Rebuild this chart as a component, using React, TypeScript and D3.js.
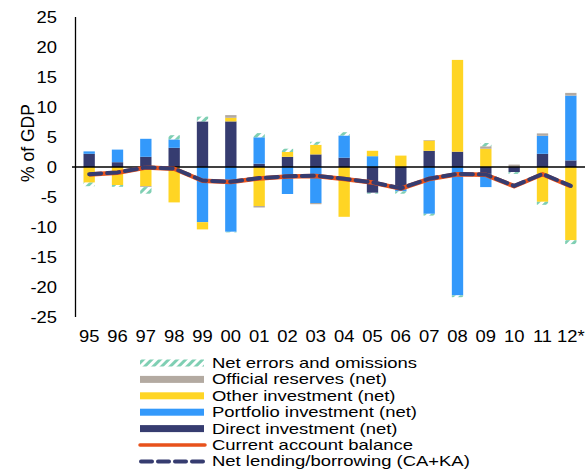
import React, { useEffect, useRef } from 'react';
import * as d3 from 'd3';

const years = ['95', '96', '97', '98', '99', '00', '01', '02', '03', '04', '05', '06', '07', '08', '09', '10', '11', '12*'];

// financial account components, % of GDP
const directInv = [2.2, 0.8, 1.7, 3.2, 7.6, 7.6, 0.55, 1.7, 2.1, 1.55, -4.3, -3.7, 2.7, 2.55, -1.15, -0.85, 2.2, 1.1];
const portfolioInv = [0.4, 2.1, 3.0, 1.4, -9.2, -10.8, 4.4, -4.5, -6.0, 3.7, 1.8, -0.35, -7.8, -21.4, -2.2, 0, 3.0, 10.8];
const otherInv = [-2.6, -3.0, -3.2, -5.9, -1.2, 0.6, -6.5, 0.8, 1.6, -8.3, 0.9, 1.9, 1.7, 15.3, 3.05, 0, -5.8, -12.2];
const reserves = [0, 0, -0.15, 0, 0, 0.45, -0.25, 0, -0.2, 0, 0, 0, 0.1, 0, 0.4, 0.4, 0.4, 0.45];
const errorsOm = [-0.6, -0.3, -1.1, 0.7, 0.8, -0.1, 0.7, 0.55, 0.5, 0.55, -0.15, -0.4, -0.3, -0.3, 0.55, -0.3, -0.5, -0.65];

const currentAccount = [-1.25, -0.95, -0.1, -0.3, -2.3, -2.5, -1.9, -1.6, -1.5, -2.0, -2.6, -3.6, -2.0, -1.2, -1.3, -3.2, -1.2, -3.2];
const netLending = [-1.2, -0.9, -0.05, -0.25, -2.25, -2.45, -1.85, -1.55, -1.45, -1.95, -2.55, -3.55, -1.95, -1.15, -1.25, -3.15, -1.15, -3.15];

const yTicks = [25, 20, 15, 10, 5, 0, -5, -10, -15, -20, -25];

const keys = ['direct', 'portfolio', 'other', 'reserves', 'errors'];
const colors: Record<string, string> = {
  direct: '#363c70',
  portfolio: '#3399fb',
  other: '#ffd524',
  reserves: '#b3aaa1',
  errors: 'url(#hatch)'
};

const legendItems = [
  { label: 'Net errors and omissions', kind: 'errors' },
  { label: 'Official reserves (net)', kind: 'reserves' },
  { label: 'Other investment (net)', kind: 'other' },
  { label: 'Portfolio investment (net)', kind: 'portfolio' },
  { label: 'Direct investment (net)', kind: 'direct' },
  { label: 'Current account balance', kind: 'ca' },
  { label: 'Net lending/borrowing (CA+KA)', kind: 'nl' }
];

const App = () => {
  const ref = useRef<SVGSVGElement>(null);

  useEffect(() => {
    const svg = d3.select(ref.current);
    svg.selectAll('*').remove();
    const font = '"Liberation Sans", Arial, sans-serif';
    const sx = 1.15; // text looks horizontally stretched in the source

    const defs = svg.append('defs');
    const pat = defs.append('pattern')
      .attr('id', 'hatch')
      .attr('patternUnits', 'userSpaceOnUse')
      .attr('width', 6)
      .attr('height', 6)
      .attr('patternTransform', 'rotate(45)');
    pat.append('rect').attr('width', 6).attr('height', 6).attr('fill', '#ffffff');
    pat.append('rect').attr('width', 3).attr('height', 6).attr('fill', '#7fcfb3');

    const table = years.map((yr, i) => ({
      year: yr,
      direct: directInv[i],
      portfolio: portfolioInv[i],
      other: otherInv[i],
      reserves: reserves[i],
      errors: errorsOm[i]
    }));

    const x = d3.scaleBand().domain(years).range([75, 585]).paddingInner(0.6).paddingOuter(0.3);
    const y = d3.scaleLinear().domain([-25, 25]).range([317, 17]);

    const stack = d3.stack<any>().keys(keys).offset(d3.stackOffsetDiverging);
    const series = stack(table);

    svg.append('g')
      .selectAll('g')
      .data(series)
      .join('g')
      .attr('fill', (d: any) => colors[d.key])
      .selectAll('rect')
      .data((d: any) => d)
      .join('rect')
      .attr('x', (d: any) => x(d.data.year)!)
      .attr('width', x.bandwidth())
      .attr('y', (d: any) => y(Math.max(d[0], d[1])))
      .attr('height', (d: any) => Math.abs(y(d[0]) - y(d[1])));

    // axes
    svg.append('line')
      .attr('x1', 72).attr('x2', 585)
      .attr('y1', y(0)).attr('y2', y(0))
      .attr('stroke', '#000').attr('stroke-width', 1.3);
    svg.append('line')
      .attr('x1', 75.5).attr('x2', 75.5)
      .attr('y1', y(25)).attr('y2', y(-25))
      .attr('stroke', '#000').attr('stroke-width', 1.3);

    svg.append('g')
      .selectAll('text')
      .data(yTicks)
      .join('text')
      .attr('transform', d => `translate(57,${y(d) + 5.5}) scale(${sx},1)`)
      .attr('text-anchor', 'end')
      .attr('font-family', font)
      .attr('font-size', 16)
      .text(d => String(d));

    svg.append('g')
      .selectAll('text')
      .data(years)
      .join('text')
      .attr('transform', d => `translate(${x(d)! + x.bandwidth() / 2},342) scale(${sx},1)`)
      .attr('text-anchor', 'middle')
      .attr('font-family', font)
      .attr('font-size', 16)
      .text(d => d);

    svg.append('text')
      .attr('transform', 'translate(34,143) rotate(-90)')
      .attr('text-anchor', 'middle')
      .attr('font-family', font)
      .attr('font-size', 17.5)
      .text('% of GDP');

    // lines
    const line = d3.line<number>()
      .x((_, i) => x(years[i])! + x.bandwidth() / 2)
      .y(d => y(d));

    svg.append('path')
      .attr('d', line(currentAccount))
      .attr('fill', 'none')
      .attr('stroke', '#e8521c')
      .attr('stroke-width', 4.5)
      .attr('stroke-linejoin', 'round');

    svg.append('path')
      .attr('d', line(netLending))
      .attr('fill', 'none')
      .attr('stroke', '#363c70')
      .attr('stroke-width', 4)
      .attr('stroke-dasharray', '12,6')
      .attr('stroke-linecap', 'round')
      .attr('stroke-linejoin', 'round');

    // legend
    const lg = svg.append('g');
    const rowY = (i: number) => 363 + i * 16.4;
    const lsx = 1.3;
    legendItems.forEach((it, i) => {
      const cy = rowY(i);
      if (it.kind === 'ca') {
        lg.append('line').attr('x1', 140).attr('x2', 205).attr('y1', cy).attr('y2', cy)
          .attr('stroke', '#e8521c').attr('stroke-width', 3.5).attr('stroke-linecap', 'round');
      } else if (it.kind === 'nl') {
        lg.append('line').attr('x1', 141).attr('x2', 205).attr('y1', cy).attr('y2', cy)
          .attr('stroke', '#363c70').attr('stroke-width', 4)
          .attr('stroke-dasharray', '11,6').attr('stroke-linecap', 'round');
      } else {
        lg.append('rect').attr('x', 140).attr('y', cy - 3.5).attr('width', 64).attr('height', 7)
          .attr('fill', colors[it.kind]);
      }
      lg.append('text')
        .attr('transform', `translate(212,${cy + 5}) scale(${lsx},1)`)
        .attr('font-family', font)
        .attr('font-size', 14.2)
        .text(it.label);
    });
  }, []);

  return (
    <svg ref={ref} width={585} height={470}
      style={{ position: 'absolute', left: 0, top: 0, background: '#fff' }} />
  );
};

export default App;
